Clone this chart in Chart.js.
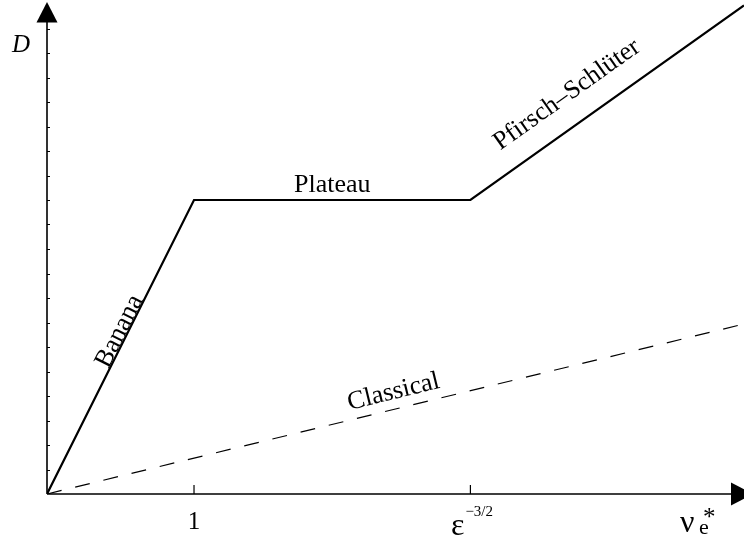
<!DOCTYPE html>
<html>
<head>
<meta charset="utf-8">
<script src="https://cdn.jsdelivr.net/npm/chart.js@4/dist/chart.umd.min.js"></script>
<style>
  html, body { margin: 0; padding: 0; background: #fff; }
  #wrap { width: 744px; height: 539px; }
</style>
</head>
<body>
<div id="wrap"><canvas id="c" width="744" height="539"></canvas></div>
<script>
// ---- data ----
const regimeX = [0, 1, 2.88, 4.741];          // collisionality breakpoints
const regimeD = [0, 12, 12, 19.94];           // neoclassical diffusion
const classicalX = [0, 4.741];
const classicalD = [0, 6.94];
const xTickValues = [1, 2.88];
const xTickLabels = ['1', 'ε'];
const xTickSup = ['', '−3/2'];
const yTickValues = [1, 2, 3, 4, 5, 6, 7, 8, 9, 10, 11, 12, 13, 14, 15, 16, 17, 18, 19];
const regimeLabels = ['Banana', 'Plateau', 'Pfirsch–Schlüter', 'Classical'];
const yAxisLabel = 'D';
const xAxisLabel = ['ν', 'e', '*'];

// label placement (fraction along segment, perpendicular offset in px)
const labelPlace = [
  { seg: 0, ds: 0, t: 0.541, off: 1 },
  { seg: 1, ds: 0, t: 0.5, off: 8 },
  { seg: 2, ds: 0, t: 0.416, off: 23 },
  { seg: 0, ds: 1, t: 0.503, off: 10 }
];

const SERIF = '"Liberation Serif", "DejaVu Serif", serif';

const axesPlugin = {
  id: 'physAxes',
  afterDraw(chart) {
    const ctx = chart.ctx;
    const xs = chart.scales.x, ys = chart.scales.y;
    const x0 = xs.getPixelForValue(0), y0 = ys.getPixelForValue(0);
    ctx.save();
    ctx.strokeStyle = '#000';
    ctx.fillStyle = '#000';
    ctx.lineWidth = 1.6;
    // axes lines
    ctx.beginPath();
    ctx.moveTo(x0, y0);
    ctx.lineTo(731, y0);
    ctx.moveTo(x0, y0);
    ctx.lineTo(x0, 22);
    ctx.stroke();
    // arrowheads
    ctx.beginPath();
    ctx.moveTo(x0, 2);
    ctx.lineTo(x0 - 10.5, 22.5);
    ctx.lineTo(x0 + 10.5, 22.5);
    ctx.closePath();
    ctx.fill();
    ctx.beginPath();
    ctx.moveTo(753, y0);
    ctx.lineTo(731, y0 - 11.5);
    ctx.lineTo(731, y0 + 11.5);
    ctx.closePath();
    ctx.fill();
    // y ticks
    ctx.lineWidth = 1;
    ctx.beginPath();
    yTickValues.forEach(v => {
      const y = Math.round(ys.getPixelForValue(v)) + 0.5;
      ctx.moveTo(x0, y);
      ctx.lineTo(x0 + 3, y);
    });
    ctx.stroke();
    // x ticks
    ctx.lineWidth = 1.2;
    ctx.beginPath();
    xTickValues.forEach(v => {
      const x = xs.getPixelForValue(v);
      ctx.moveTo(x, y0);
      ctx.lineTo(x, y0 - 9);
    });
    ctx.stroke();
    // x tick labels
    ctx.textBaseline = 'alphabetic';
    xTickValues.forEach((v, i) => {
      const x = xs.getPixelForValue(v);
      if (xTickSup[i]) {
        ctx.font = '32px ' + SERIF;
        ctx.textAlign = 'left';
        const w = ctx.measureText(xTickLabels[i]).width;
        const left = x - w - 6;
        ctx.fillText(xTickLabels[i], left, y0 + 41);
        ctx.font = '15px ' + SERIF;
        ctx.fillText(xTickSup[i], left + w + 1, y0 + 22);
      } else {
        ctx.font = '25px ' + SERIF;
        ctx.textAlign = 'center';
        ctx.fillText(xTickLabels[i], x, y0 + 35);
      }
    });
    // axis titles
    ctx.textAlign = 'left';
    ctx.font = 'italic 25px ' + SERIF;
    ctx.fillText(yAxisLabel, 12, 52);
    ctx.font = '32px ' + SERIF;
    ctx.fillText(xAxisLabel[0], 680, y0 + 38);
    ctx.font = '22px ' + SERIF;
    ctx.fillText(xAxisLabel[1], 699, y0 + 40);
    ctx.font = '25px ' + SERIF;
    ctx.fillText(xAxisLabel[2], 703, y0 + 31);
    // regime labels along the lines
    ctx.font = '26px ' + SERIF;
    ctx.textAlign = 'center';
    labelPlace.forEach((p, i) => {
      const xsArr = p.ds === 0 ? regimeX : classicalX;
      const ysArr = p.ds === 0 ? regimeD : classicalD;
      const ax = xs.getPixelForValue(xsArr[p.seg]), ay = ys.getPixelForValue(ysArr[p.seg]);
      const bx = xs.getPixelForValue(xsArr[p.seg + 1]), by = ys.getPixelForValue(ysArr[p.seg + 1]);
      const dx = bx - ax, dy = by - ay;
      const len = Math.hypot(dx, dy);
      const ux = dx / len, uy = dy / len;
      // normal pointing to upper-left side
      const nx = uy, ny = -ux;
      const px = ax + dx * p.t + nx * p.off;
      const py = ay + dy * p.t + ny * p.off;
      ctx.save();
      ctx.translate(px, py);
      ctx.rotate(Math.atan2(dy, dx));
      ctx.fillText(regimeLabels[i], 0, 0);
      ctx.restore();
    });
    ctx.restore();
  }
};

new Chart(document.getElementById('c'), {
  type: 'scatter',
  data: {
    datasets: [
      {
        label: 'Neoclassical',
        data: regimeX.map((x, i) => ({ x: x, y: regimeD[i] })),
        showLine: true,
        borderColor: '#000',
        borderWidth: 2.2,
        pointRadius: 0,
        tension: 0
      },
      {
        label: 'Classical',
        data: classicalX.map((x, i) => ({ x: x, y: classicalD[i] })),
        showLine: true,
        borderColor: '#000',
        borderWidth: 1.2,
        borderDash: [15, 14],
        pointRadius: 0,
        tension: 0
      }
    ]
  },
  options: {
    responsive: false,
    animation: false,
    devicePixelRatio: 1,
    layout: { padding: { left: 47, right: 0, top: 4, bottom: 45 } },
    scales: {
      x: { type: 'linear', min: 0, max: 4.741, display: false },
      y: { type: 'linear', min: 0, max: 20, display: false }
    },
    plugins: { legend: { display: false }, tooltip: { enabled: false } }
  },
  plugins: [axesPlugin]
});
</script>
</body>
</html>
